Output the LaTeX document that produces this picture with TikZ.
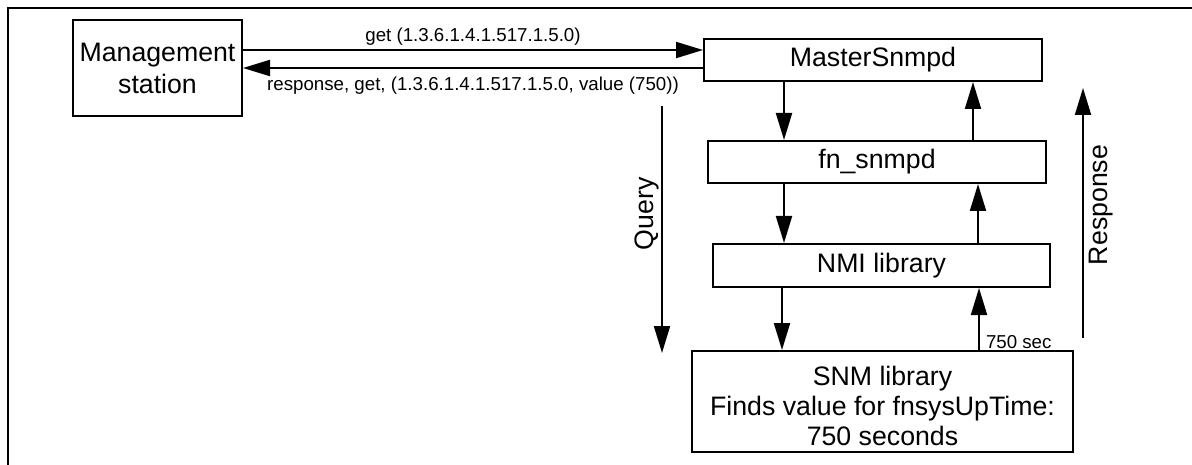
\documentclass[tikz,border=0pt]{standalone}
\usepackage{fontspec}
\setmainfont{Liberation Sans}
\usetikzlibrary{arrows.meta,calc}
\begin{document}
\begin{tikzpicture}[x=1pt,y=-1pt,
  box/.style={draw,line width=2pt,rectangle,inner sep=0pt,align=center,
    font=\fontsize{26.7}{32}\selectfont},
  arr/.style={line width=2pt,-{Triangle[length=27pt,width=16pt]}},
  lbl/.style={font=\fontsize{18.7}{22}\selectfont,inner sep=0pt},
  big/.style={font=\fontsize{26.7}{31}\selectfont,inner sep=0pt}]
\useasboundingbox (0,0) rectangle (1192,465);
% frame
\draw[line width=2.5pt] (8,465) -- (8,8) -- (1192,8);
% nodes
\node[box,minimum width=169pt,minimum height=96pt] (ms) at (157.5,68) {Management\\station};
\node[box,minimum width=338pt,minimum height=42pt] (master) at (873,60) {MasterSnmpd};
\node[box,minimum width=338pt,minimum height=42pt] (fn) at (877,162) {fn\_snmpd};
\node[box,minimum width=337pt,minimum height=43pt] (nmi) at (881.5,265.5) {NMI library};
\node[box,minimum width=381pt,minimum height=101pt,font=\fontsize{26.7}{30}\selectfont] (snm) at (882.5,401.5) {\rule{0pt}{28pt}SNM library\\Finds value for fnsysUpTime:\\750 seconds};
% top arrows
\draw[arr] (ms.east |- 0,50) -- node[lbl,above=4pt]{get (1.3.6.1.4.1.517.1.5.0)} (master.west |- 0,50);
\draw[arr] (master.west |- 0,68) -- node[lbl,below=8pt]{response, get, (1.3.6.1.4.1.517.1.5.0, value (750))} (ms.east |- 0,68);
% down arrows
\draw[arr] (master.south -| 784,0) -- (fn.north -| 784,0);
\draw[arr] (fn.south -| 784,0) -- (nmi.north -| 784,0);
\draw[arr] (nmi.south -| 782,0) -- (snm.north -| 782,0);
% up arrows
\draw[arr] (fn.north -| 973,0) -- (master.south -| 973,0);
\draw[arr] (nmi.north -| 978,0) -- (fn.south -| 978,0);
\draw[arr] (snm.north -| 979,0) -- node[lbl,pos=0.12,right=6pt]{750 sec} (nmi.south -| 979,0);
% query / response
\coordinate (q1) at (662,106);
\coordinate (q2) at (662,353);
\draw[arr] (q1) -- (q2);
\node[big,rotate=90] (query) at (647,214) {Query};
\coordinate (r1) at (1083,338);
\coordinate (r2) at (1083,88);
\draw[arr] (r1) -- (r2);
\node[big,rotate=90] (resp) at (1101,205) {Response};
\end{tikzpicture}
\end{document}
